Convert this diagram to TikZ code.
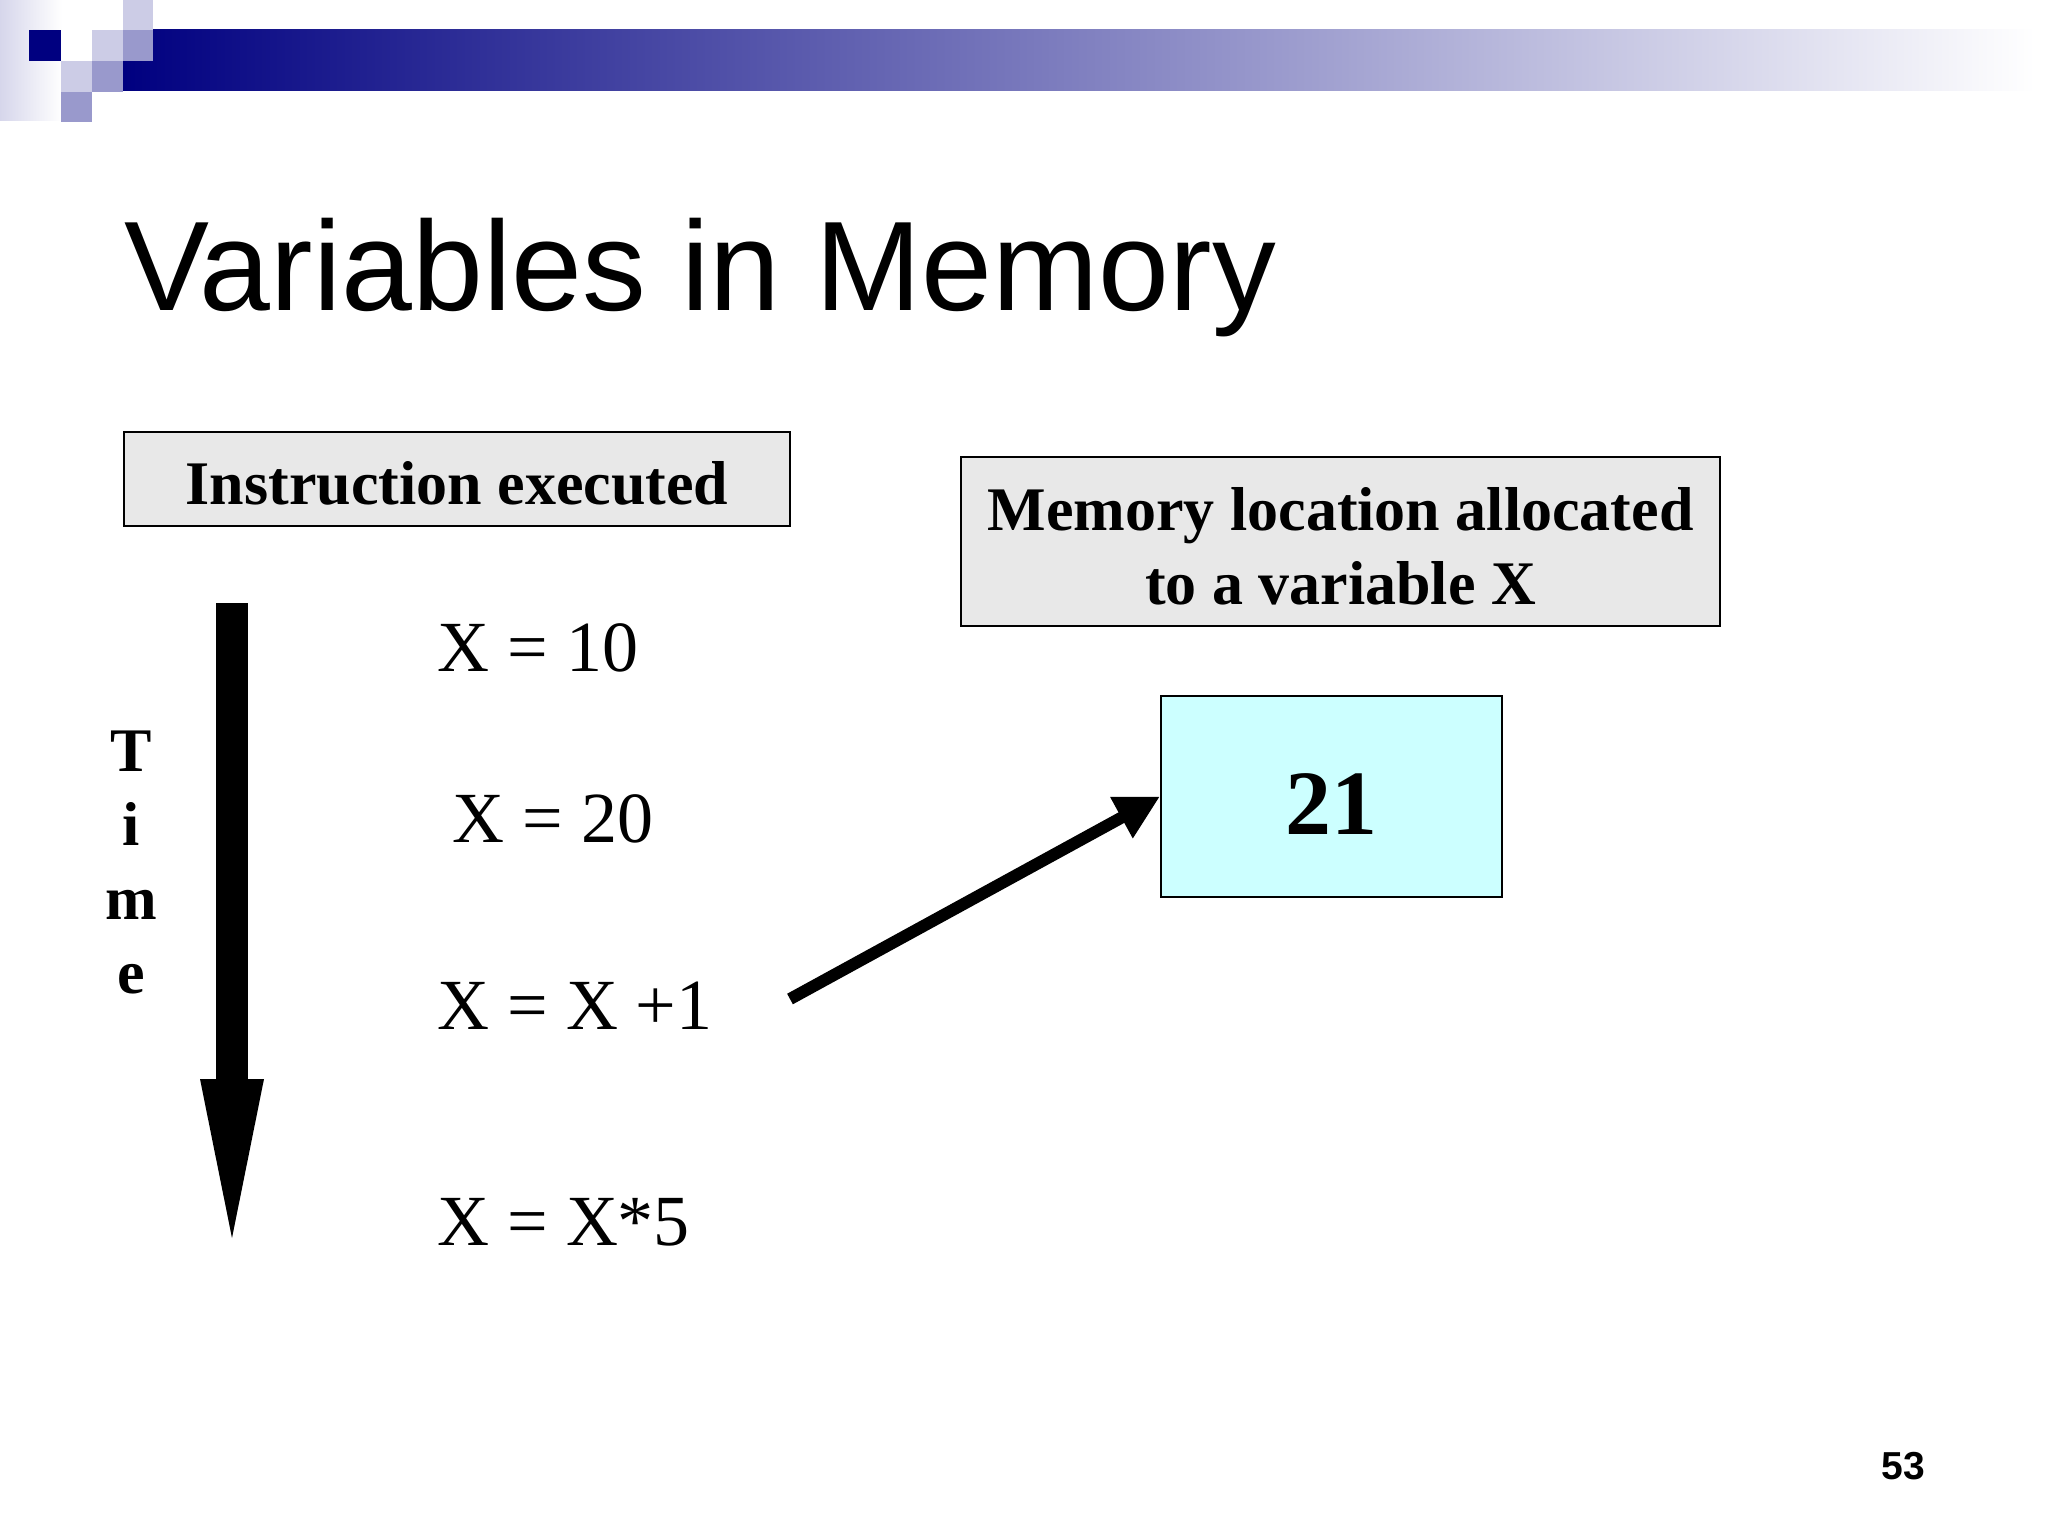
\documentclass[tikz,border=0pt]{standalone}
\usepackage{fontspec}
\setmainfont{Liberation Serif}
\newfontfamily\arialf{Liberation Sans}
\usetikzlibrary{arrows.meta}
\definecolor{navy}{HTML}{000080}
\definecolor{lav}{HTML}{CCCCE6}
\definecolor{midlav}{HTML}{9999CC}
\definecolor{boxgray}{HTML}{E8E8E8}
\definecolor{memcyan}{HTML}{CCFFFF}
\newcommand{\lowerby}[2]{\raisebox{-#1}[\height][\depth]{#2}}
\tikzset{
  labelbox/.style={draw=black, line width=1pt, fill=boxgray, inner sep=0pt, align=center,
    font=\bfseries\fontsize{31}{37}\selectfont},
  stmt/.style={anchor=base west, inner sep=0pt, font=\fontsize{36}{43}\selectfont},
  timeletter/.style={anchor=base, inner sep=0pt, font=\bfseries\fontsize{31}{37}\selectfont},
  bigarrow/.style={line width=6pt, -{Triangle[length=22pt,width=22pt]}},
}
\begin{document}
\begin{tikzpicture}[x=0.5pt,y=-0.5pt]
\useasboundingbox[fill=white] (0,0) rectangle (2048,1536);
% header decoration
\shade[left color=lav!80, right color=white] (0,0) rectangle (62,120);
\shade[left color=navy, right color=white] (123,30) rectangle (2035,91);
\fill[navy] (29,30) rectangle (61,61);
\fill[lav] (61,61) rectangle (92,92);
\fill[lav] (92,30) rectangle (123,61);
\fill[lav] (123,0) rectangle (153,30);
\fill[midlav] (123,30) rectangle (153,61);
\fill[midlav] (92,61) rectangle (123,92);
\fill[midlav] (61,92) rectangle (92,122);
% title
\node[anchor=base west, inner sep=0pt, font=\arialf\fontsize{63.7}{76}\selectfont] (title) at (124,310) {Variables in Memory};
% boxes
\node[labelbox, minimum width=333pt, minimum height=47pt] (instr) at (457,479) {\lowerby{2pt}{Instruction executed}};
\node[labelbox, minimum width=379.5pt, minimum height=84.5pt] (memloc) at (1340.5,541.5)
  {\lowerby{5.6pt}{\begin{tabular}{@{}c@{}}Memory location allocated\\to a variable X\end{tabular}}};
\node[draw=black, line width=1pt, fill=memcyan, minimum width=170.5pt, minimum height=100.5pt, inner sep=0pt,
  font=\bfseries\fontsize{46}{55}\selectfont] (mem) at (1331.5,796.5) {\lowerby{4pt}{21}};
% statements
\node[stmt] (s1) at (437,671) {X = 10};
\node[stmt] (s2) at (452,842) {X = 20};
\node[stmt] (s3) at (437,1029) {X = X +1};
\node[stmt] (s4) at (437,1245) {X = X*5};
% time
\node[timeletter] (tT) at (131,771) {T};
\node[timeletter] (ti) at (131,845) {i};
\node[timeletter] (tm) at (131,919) {m};
\node[timeletter] (te) at (131,993) {e};
\coordinate (tbot) at (232,1238);
\fill (216,603) rectangle (248,1081);
\fill (200,1079) -- (264,1079) -- (tbot) -- cycle;
% assignment arrow
\coordinate (tail) at (790,999);
\draw[bigarrow] (tail) -- (mem.west);
% page number
\node[font=\arialf\bfseries\fontsize{19.5}{23}\selectfont, inner sep=0pt] (pg) at (1903,1466) {53};
\end{tikzpicture}
\end{document}
